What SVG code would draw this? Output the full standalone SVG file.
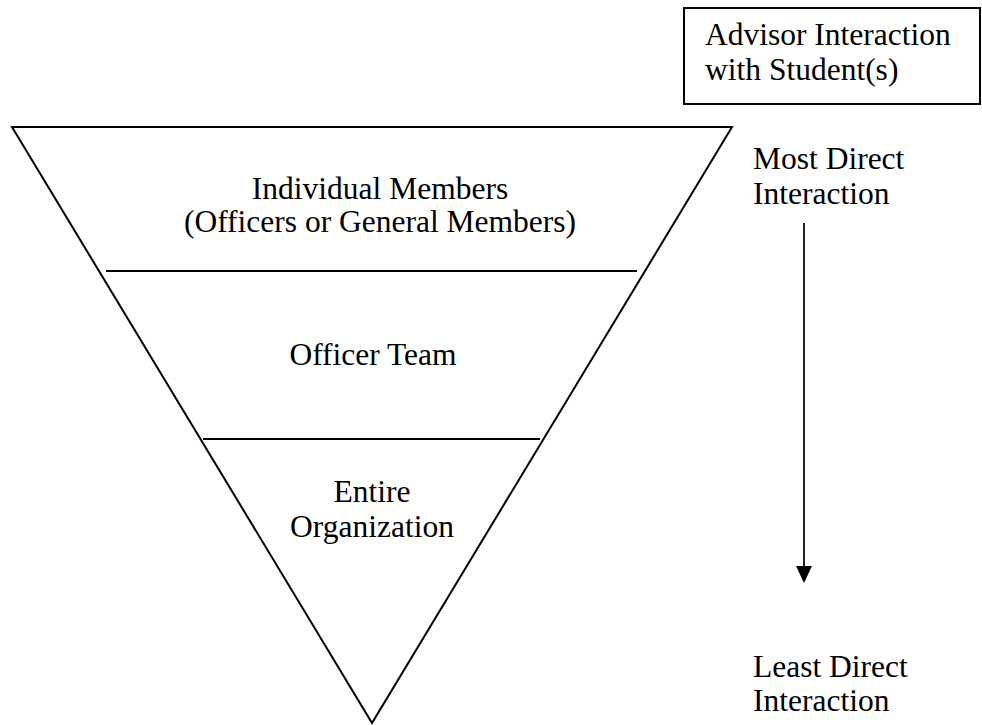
<svg xmlns="http://www.w3.org/2000/svg" width="982" height="725" viewBox="0 0 982 725">
  <style>
    .ln { stroke: #000; stroke-width: 2; fill: none; }
    .tx { font-family: "Liberation Serif", "Times New Roman", serif; font-size: 31.5px; fill: #000; }
    .mid { text-anchor: middle; }
  </style>
  <defs>
    <marker id="arrowhead" markerWidth="17" markerHeight="16" refX="2" refY="8" orient="auto" markerUnits="userSpaceOnUse" viewBox="0 0 17 16">
      <path d="M0,0 L17,8 L0,16 Z" fill="#000"/>
    </marker>
  </defs>
  <rect width="982" height="725" fill="#fff"/>

  <!-- legend box -->
  <g id="legend">
    <rect x="684" y="8" width="296" height="96" class="ln"/>
    <text class="tx" x="705" y="45">Advisor Interaction</text>
    <text class="tx" x="705" y="80">with Student(s)</text>
  </g>

  <!-- inverted pyramid -->
  <g id="pyramid">
    <polygon points="12,127 732,127 372,723" class="ln" stroke-linejoin="miter"/>
    <line x1="106" y1="271" x2="637" y2="271" class="ln"/>
    <line x1="203" y1="439" x2="540" y2="439" class="ln"/>
  </g>

  <g id="individual-members">
    <text class="tx mid" x="380" y="199">Individual Members</text>
    <text class="tx mid" x="380" y="232">(Officers or General Members)</text>
  </g>

  <g id="officer-team">
    <text class="tx mid" x="373" y="365">Officer Team</text>
  </g>

  <g id="entire-organization">
    <text class="tx mid" x="372" y="502">Entire</text>
    <text class="tx mid" x="372" y="537">Organization</text>
  </g>

  <g id="most-direct">
    <text class="tx" x="753" y="169">Most Direct</text>
    <text class="tx" x="753" y="204">Interaction</text>
  </g>

  <g id="least-direct">
    <text class="tx" x="753" y="677">Least Direct</text>
    <text class="tx" x="753" y="711">Interaction</text>
  </g>

  <!-- direction connector -->
  <g id="connectors">
    <line x1="804" y1="223" x2="804" y2="568" stroke="#000" stroke-width="1.7" marker-end="url(#arrowhead)"/>
  </g>
</svg>
